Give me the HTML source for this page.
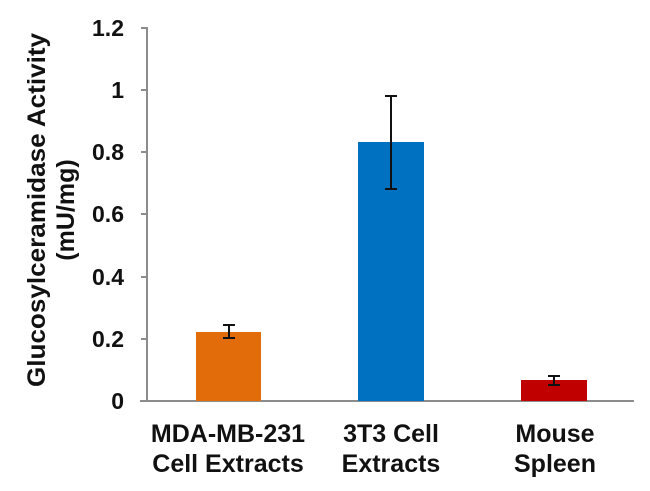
<!DOCTYPE html>
<html><head><style>body{margin:0;background:#fff}</style></head><body>
<svg width="650" height="486" xmlns="http://www.w3.org/2000/svg" font-family="Liberation Sans, Arial, sans-serif" font-weight="bold">
<rect width="650" height="486" fill="#fff"/>
<g stroke="#8c8c8c" stroke-width="2">
<line x1="147" y1="27" x2="147" y2="401"/>
<line x1="140" y1="401" x2="634" y2="401"/>
<line x1="141" y1="28" x2="147" y2="28"/>
<line x1="141" y1="90" x2="147" y2="90"/>
<line x1="141" y1="152" x2="147" y2="152"/>
<line x1="141" y1="214" x2="147" y2="214"/>
<line x1="141" y1="277" x2="147" y2="277"/>
<line x1="141" y1="339" x2="147" y2="339"/>
</g>
<g font-size="23" text-anchor="end" fill="#111">
<text x="124" y="36">1.2</text>
<text x="124" y="98">1</text>
<text x="124" y="160">0.8</text>
<text x="124" y="222">0.6</text>
<text x="124" y="285">0.4</text>
<text x="124" y="347">0.2</text>
<text x="124" y="409">0</text>
</g>
<rect x="196" y="332" width="65" height="69" fill="#E36C0A"/>
<rect x="358" y="142" width="66" height="259" fill="#0070C0"/>
<rect x="521" y="380" width="66" height="21" fill="#C00000"/>
<g stroke="#111" stroke-width="2">
<line x1="229" y1="325" x2="229" y2="338"/><line x1="223" y1="325" x2="235" y2="325"/><line x1="223" y1="338" x2="235" y2="338"/>
<line x1="391" y1="96" x2="391" y2="189"/><line x1="385" y1="96" x2="397" y2="96"/><line x1="385" y1="189" x2="397" y2="189"/>
<line x1="554" y1="376" x2="554" y2="385"/><line x1="548" y1="376" x2="560" y2="376"/><line x1="548" y1="385" x2="560" y2="385"/>
</g>
<g font-size="25" text-anchor="middle" fill="#111">
<text x="228" y="442">MDA-MB-231</text>
<text x="228" y="472">Cell Extracts</text>
<text x="391" y="442">3T3 Cell</text>
<text x="391" y="472">Extracts</text>
<text x="555" y="442">Mouse</text>
<text x="555" y="472">Spleen</text>
</g>
<g font-size="25" text-anchor="middle" fill="#111">
<text transform="translate(45,210) rotate(-90)" textLength="354" lengthAdjust="spacingAndGlyphs">Glucosylceramidase Activity</text>
<text transform="translate(74,210) rotate(-90)">(mU/mg)</text>
</g>
</svg>
</body></html>
